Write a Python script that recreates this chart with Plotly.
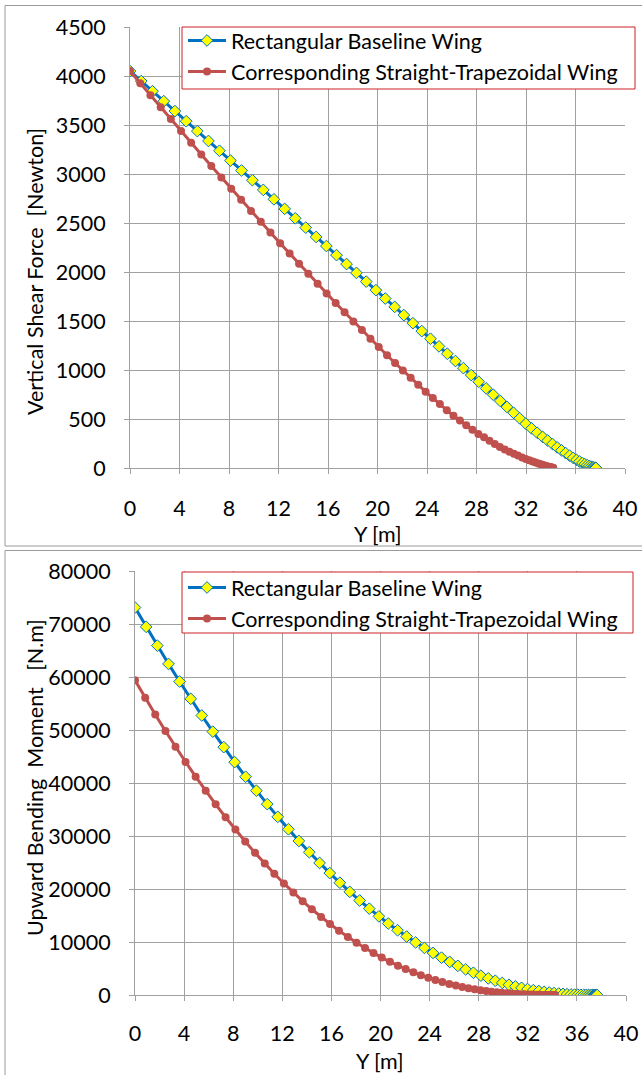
import plotly.graph_objects as go

W, H = 642, 1075

# ---------------- data ----------------
span_rect = [0.00, 0.91, 1.82, 2.73, 3.63, 4.54, 5.44, 6.34, 7.23, 8.12, 9.01, 9.89, 10.77, 11.63,
             12.50, 13.35, 14.20, 15.04, 15.87, 16.69, 17.50, 18.30, 19.09, 19.87, 20.63, 21.39,
             22.13, 22.86, 23.58, 24.28, 24.97, 25.64, 26.30, 26.94, 27.57, 28.18, 28.78, 29.35,
             29.92, 30.46, 30.99, 31.49, 31.98, 32.45, 32.90, 33.34, 33.75, 34.14, 34.52, 34.87,
             35.20, 35.52, 35.81, 36.08, 36.33, 36.56, 36.76, 36.95, 37.11, 37.25, 37.38, 37.47,
             37.55, 37.61, 37.64, 37.65]

span_trap = [0.00, 0.83, 1.65, 2.48, 3.30, 4.12, 4.94, 5.76, 6.57, 7.38, 8.18, 8.98, 9.78, 10.57,
             11.35, 12.13, 12.90, 13.66, 14.41, 15.16, 15.89, 16.62, 17.34, 18.05, 18.74, 19.43,
             20.10, 20.77, 21.42, 22.05, 22.68, 23.29, 23.89, 24.47, 25.04, 25.60, 26.14, 26.66,
             27.17, 27.67, 28.15, 28.61, 29.05, 29.48, 29.89, 30.28, 30.66, 31.02, 31.35, 31.68,
             31.98, 32.26, 32.53, 32.77, 33.00, 33.21, 33.39, 33.56, 33.71, 33.84, 33.95, 34.04,
             34.11, 34.16, 34.19, 34.20]

shear_rect = [4050, 3948, 3845, 3743, 3642, 3539, 3438, 3337, 3237, 3137, 3036, 2937, 2838, 2742,
              2644, 2548, 2453, 2358, 2265, 2172, 2081, 1991, 1902, 1815, 1729, 1644, 1560, 1478,
              1397, 1319, 1241, 1166, 1091, 1019, 948, 880, 812, 748, 684, 623, 564, 507, 452,
              404, 360, 318, 280, 245, 210, 180, 152, 126, 103, 83, 66, 51, 39, 29, 21, 14, 9, 5,
              3, 1, 0.3, 0]

shear_trap = [4050, 3926, 3804, 3681, 3560, 3438, 3319, 3199, 3082, 2965, 2850, 2737, 2623, 2512,
              2403, 2294, 2188, 2083, 1981, 1879, 1781, 1684, 1589, 1496, 1407, 1319, 1234, 1151,
              1071, 994, 920, 849, 779, 714, 652, 590, 533, 485, 437, 391, 348, 313, 279, 245,
              214, 189, 167, 146, 127, 108, 91, 78, 66, 55, 45, 37, 30, 24, 19, 14, 10, 6.4, 3.6,
              1.6, 0.4, 0]

moment_rect = [73107, 69468, 65922, 62470, 59147, 55879, 52740, 49691, 46766, 43930, 41183, 38554,
               36013, 33614, 31271, 29065, 26939, 24919, 23001, 21181, 19459, 17830, 16291, 14842,
               13496, 12213, 11028, 9919, 8882, 7933, 7050, 6244, 5499, 4824, 4203, 3648, 3140,
               2694, 2284, 1933, 1620, 1352, 1116, 915, 743, 594, 471, 369, 282, 214, 160, 115,
               82, 57, 38, 25, 16, 9, 5, 3, 1, 0.5, 0.2, 0.1, 0, 0]

moment_trap = [59392, 56081, 52912, 49806, 46837, 43967, 41197, 38525, 35981, 33532, 31206, 28971,
               26827, 24799, 22882, 21050, 19325, 17702, 16178, 14730, 13395, 12130, 10951, 9857,
               8855, 7915, 7060, 6261, 5538, 4888, 4284, 3745, 3256, 2823, 2434, 2087, 1784, 1520,
               1284, 1077, 900, 748, 618, 505, 412, 333, 266, 209, 164, 125, 95, 73, 53, 39, 27,
               18.6, 12.4, 7.8, 4.7, 2.6, 1.25, 0.5, 0.2, 0.03, 0, 0]

series_names = ["Rectangular Baseline Wing", "Corresponding Straight-Trapezoidal Wing"]
x_ticks = [0, 4, 8, 12, 16, 20, 24, 28, 32, 36, 40]

# ---------------- styling ----------------
FONT = "Lato"
FS = 21.5
BLUE = "#0070C0"
RED = "#C0504D"
GRID = "#A0A0A0"
LEG_BORDER = "#CC2127"


def px_x(p):
    return p / W


def px_y(p):
    return 1 - p / H


fig = go.Figure()

blue_style = dict(mode="lines+markers", line=dict(color=BLUE, width=3),
                  marker=dict(symbol="diamond", size=9, color="#FFFF00",
                              line=dict(color=BLUE, width=1)))
red_style = dict(mode="lines+markers", line=dict(color=RED, width=3),
                 marker=dict(symbol="circle", size=8, color=RED))

# top chart
fig.add_trace(go.Scatter(x=span_rect, y=shear_rect, name=series_names[0], xaxis="x", yaxis="y",
                         legend="legend", legendgroup="a", **blue_style))
fig.add_trace(go.Scatter(x=span_trap, y=shear_trap, name=series_names[1], xaxis="x", yaxis="y",
                         legend="legend", legendgroup="b", **red_style))
# bottom chart
fig.add_trace(go.Scatter(x=span_rect, y=moment_rect, name=series_names[0], xaxis="x2", yaxis="y2",
                         legend="legend2", legendgroup="c", **blue_style))
fig.add_trace(go.Scatter(x=span_trap, y=moment_trap, name=series_names[1], xaxis="x2", yaxis="y2",
                         legend="legend2", legendgroup="d", **red_style))

axis_common = dict(showgrid=True, gridcolor=GRID, gridwidth=1, showline=True, linecolor=GRID,
                   linewidth=1, ticks="outside", ticklen=5, tickcolor=GRID, zeroline=False,
                   tickfont=dict(family=FONT, size=FS, color="black"), fixedrange=True)

legend_common = dict(xanchor="left", yanchor="top", bgcolor="rgba(0,0,0,0)",
                     borderwidth=0, tracegroupgap=0, itemwidth=38,
                     font=dict(family=FONT, size=FS, color="black"))

fig.update_layout(
    width=W, height=H, margin=dict(l=0, r=0, t=0, b=0, autoexpand=False),
    paper_bgcolor="white", plot_bgcolor="white",
    xaxis=dict(domain=[px_x(130), px_x(625)], range=[0, 40], tickvals=x_ticks, anchor="y",
               ticklabelstandoff=16, **axis_common),
    yaxis=dict(domain=[px_y(468), px_y(27)], range=[0, 4500], dtick=500, tickformat="d",
               anchor="x", ticklabelstandoff=14, **axis_common),
    xaxis2=dict(domain=[px_x(135), px_x(626)], range=[0, 40], tickvals=x_ticks, anchor="y2",
                ticklabelstandoff=14, **axis_common),
    yaxis2=dict(domain=[px_y(995), px_y(571)], range=[0, 80000], dtick=10000, tickformat="d",
                anchor="x2", ticklabelstandoff=14, **axis_common),
    legend=dict(x=px_x(183), y=px_y(20), **legend_common),
    legend2=dict(x=px_x(183), y=px_y(567), **legend_common),
    showlegend=True,
)

ann_font = dict(family=FONT, size=FS, color="black")
ann_common = dict(xref="paper", yref="paper", showarrow=False, font=ann_font,
                  xanchor="center", yanchor="middle")
fig.add_annotation(text="Vertical Shear Force\u00a0 [Newton]", x=px_x(35), y=px_y(272),
                   textangle=-90, **ann_common)
fig.add_annotation(text="Upward Bending\u00a0 Moment\u00a0\u00a0 [N.m]", x=px_x(35), y=px_y(778),
                   textangle=-90, **ann_common)
fig.add_annotation(text="Y [m]", x=px_x(378), y=px_y(534), **ann_common)
fig.add_annotation(text="Y [m]", x=px_x(380), y=px_y(1061), **ann_common)

# chart-area borders
fig.add_shape(type="rect", xref="paper", yref="paper", x0=px_x(5), x1=px_x(644),
              y0=px_y(546), y1=px_y(5.5), line=dict(color="#9A9A9A", width=1), layer="below")
fig.add_shape(type="rect", xref="paper", yref="paper", x0=px_x(5), x1=px_x(644),
              y0=px_y(1080), y1=px_y(550.5), line=dict(color="#9A9A9A", width=1), layer="below")

# legend frames (white box with red border, drawn beneath the legend entries)
fig.add_shape(type="rect", xref="paper", yref="paper", x0=px_x(182), x1=px_x(635),
              y0=px_y(89), y1=px_y(27), line=dict(color=LEG_BORDER, width=1),
              fillcolor="white", layer="above")
fig.add_shape(type="rect", xref="paper", yref="paper", x0=px_x(182), x1=px_x(633),
              y0=px_y(633), y1=px_y(572), line=dict(color=LEG_BORDER, width=1),
              fillcolor="white", layer="above")

fig.write_html("out.html")
